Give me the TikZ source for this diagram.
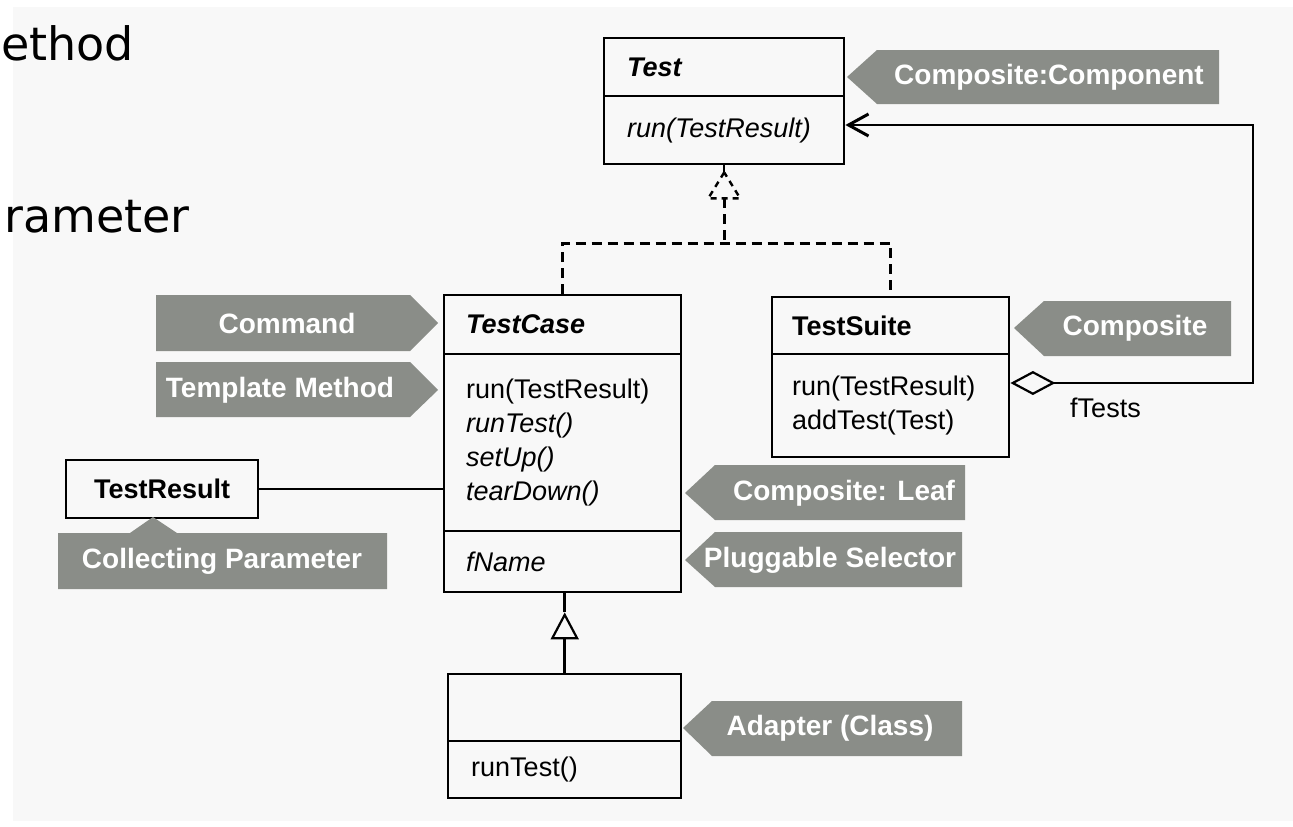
\documentclass[tikz,border=0pt]{standalone}
\usepackage{fontspec}
\setmainfont{Liberation Sans}
\newfontfamily\dejavu{DejaVu Sans}
\usetikzlibrary{arrows.meta,calc}
\definecolor{tagc}{RGB}{138,141,136}
\definecolor{bgc}{RGB}{248,248,248}
\begin{document}
\begin{tikzpicture}[x=1pt,y=-1pt,
  comp/.style={draw, line width=2.4pt, anchor=north west, inner ysep=0pt, align=left,
    font=\fontsize{27}{34}\selectfont},
  tagtext/.style={text=white, font=\bfseries\fontsize{28}{30}\selectfont, inner sep=0pt},
  realize/.style={line width=3pt, dash pattern=on 10pt off 6pt},
  realtri/.style={line width=2.4pt, dash pattern=on 6pt off 5pt},
  big/.style={font=\dejavu\fontsize{46}{50}\selectfont, inner sep=0pt}]
\useasboundingbox (0,0) rectangle (1293,827);
\fill[white] (0,0) rectangle (1293,827);
\fill[bgc] (13,7) rectangle (1293,821);

% clipped slide text
\node[big, anchor=base west] (bigA) at (1,60) {ethod};
\node[big, anchor=base west] (bigB) at (4,232) {rameter};

% Test
\node[comp, text width=194pt, inner xsep=23pt, minimum height=58pt] (testName) at (603,37) {\bfseries\itshape Test};
\node[comp, text width=194pt, inner xsep=23pt, minimum height=68pt] (testOps) at (603,95) {\itshape run(TestResult)};

% TestCase
\node[comp, text width=193pt, inner xsep=22pt, minimum height=59pt] (tcName) at (443,294) {\bfseries\itshape TestCase};
\node[comp, text width=193pt, inner xsep=22pt, minimum height=177pt] (tcOps) at (443,353)
  {run(TestResult)\\\textit{runTest()}\\\textit{setUp()}\\\textit{tearDown()}};
\node[comp, text width=193pt, inner xsep=22pt, minimum height=61pt] (tcAttr) at (443,530) {\itshape fName};

% TestSuite
\node[comp, text width=197pt, inner xsep=20pt, minimum height=57pt] (tsName) at (771,296) {\bfseries TestSuite};
\node[comp, text width=197pt, inner xsep=20pt, minimum height=103pt] (tsOps) at (771,353)
  {run(TestResult)\\addTest(Test)};

% subclass
\node[comp, text width=187pt, inner xsep=23pt, minimum height=67pt] (btName) at (447,673) {};
\node[comp, text width=187pt, inner xsep=23pt, minimum height=57pt] (btOps) at (447,740) {runTest()};

% TestResult
\node[comp, text width=172pt, inner xsep=10pt, minimum height=58pt, align=center] (tr) at (65,459) {\bfseries TestResult};

% realization (dashed)
\path (tcName.north) ++(0,-51) coordinate (jn);
\draw[realize] (tcName.north) -- (jn) -| (tsName.north);
\coordinate (apx) at ($(testOps.south)+(0,7)$);
\draw[line width=2.4pt] (testOps.south) -- (apx);
\draw[realtri] (apx) -- ++(-16,26) -- ++(32,0) -- cycle;
\draw[realize] ($(apx)+(0,26)$) -- (testOps.south |- jn);

% generalization
\coordinate (gapx) at ($(btName.north |- tcAttr.south)+(0,19)$);
\draw[line width=3pt, -{Triangle[open, length=27pt, width=28pt, line width=2.2pt]}] (btName.north) -- (gapx);
\draw[line width=3pt] (gapx) -- (btName.north |- tcAttr.south);

% association TestResult -- TestCase
\draw[line width=1.8pt] (tr.east) -- (tr.east -| tcOps.west);

% aggregation fTests
\coordinate (ag1) at (1253,383);
\coordinate (ag2) at (1253,125);
\draw[line width=2.6pt, {Diamond[open, length=45pt, width=24pt, line width=2.2pt]}-{Straight Barb[length=20pt, width=22pt, line width=3pt]}]
  ($(tsOps.north east)+(0,30)$) -- (ag1) -- (ag2) -- ($(testOps.north east)+(0,30)$);
\node[font=\fontsize{27}{30}\selectfont, anchor=west, inner sep=0pt] (ftests) at (1070,408) {fTests};

% pattern tags
\fill[tagc] (847,77) -- (877,50) -- (1219,50) -- (1219,104) -- (877,104) -- cycle;
\node[tagtext] (tagCC) at (1049,77) {Composite:Component};

\fill[tagc] (1014,328) -- (1044,301) -- (1231,301) -- (1231,356) -- (1044,356) -- cycle;
\node[tagtext] (tagC) at (1135,328) {Composite};

\fill[tagc] (156,295) -- (410,295) -- (438,323) -- (410,351) -- (156,351) -- cycle;
\node[tagtext] (tagCmd) at (287,323) {Command};

\fill[tagc] (156,362) -- (410,362) -- (438,390) -- (410,417) -- (156,417) -- cycle;
\node[tagtext] (tagTM) at (280,390) {Template Method};

\fill[tagc] (685,493) -- (715,465) -- (965,465) -- (965,520) -- (715,520) -- cycle;
\node[tagtext] (tagLeaf) at (844,493) {Composite: Leaf};

\fill[tagc] (685,560) -- (715,532) -- (962,532) -- (962,587) -- (715,587) -- cycle;
\node[tagtext] (tagPS) at (830,560) {Pluggable Selector};

\fill[tagc] (683,728) -- (712,701) -- (962,701) -- (962,756) -- (712,756) -- cycle;
\node[tagtext] (tagAd) at (830,728) {Adapter (Class)};

\fill[tagc] (58,533) -- (130,533) -- (153,517) -- (177,533) -- (387,533) -- (387,589) -- (58,589) -- cycle;
\node[tagtext] (tagCP) at (222,561) {Collecting Parameter};
\end{tikzpicture}
\end{document}
